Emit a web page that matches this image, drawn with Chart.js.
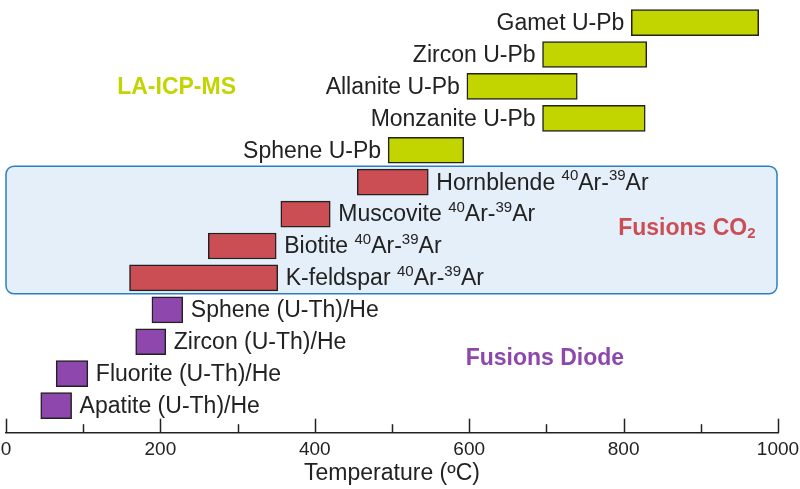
<!DOCTYPE html>
<html><head><meta charset="utf-8">
<script src="https://cdn.jsdelivr.net/npm/chart.js@4"></script>
<style>html,body{margin:0;padding:0;background:#fff}#wrap{width:800px;height:489px;position:relative}</style>
</head><body><div id="wrap"><canvas id="c"></canvas></div>
<script>
// ---- data ----
const categories = ['Gamet U-Pb','Zircon U-Pb','Allanite U-Pb','Monzanite U-Pb','Sphene U-Pb',
  'Hornblende ^40Ar-^39Ar','Muscovite ^40Ar-^39Ar','Biotite ^40Ar-^39Ar','K-feldspar ^40Ar-^39Ar',
  'Sphene (U-Th)/He','Zircon (U-Th)/He','Fluorite (U-Th)/He','Apatite (U-Th)/He'];
const tempMin = [810,695,597,695,495,455,356,262,160,189,168,65,45];
const tempMax = [975,830,740,828,593,547,420,350,352,229,207,106,85];
const methodOf = ['LA-ICP-MS','LA-ICP-MS','LA-ICP-MS','LA-ICP-MS','LA-ICP-MS',
  'Fusions CO2','Fusions CO2','Fusions CO2','Fusions CO2',
  'Fusions Diode','Fusions Diode','Fusions Diode','Fusions Diode'];
const methods = ['LA-ICP-MS','Fusions CO2','Fusions Diode'];
const methodLabels = ['LA-ICP-MS','Fusions CO_2','Fusions Diode'];
const methodLabelX = [221, 882, 698];      // temperature where the group name is centred
const methodLabelRow = [2.05, 6.45, 10.52]; // row where the group name is centred
const methodColors = ['#c2d500','#cc4e55','#8e47ad'];
const xTicks = [0,200,400,600,800,1000];
const axisTitle = 'Temperature (\u00baC)';

const datasets = methods.map((m, k) => ({
  label: m,
  data: categories.map((c, i) => methodOf[i] === m ? {x: [tempMin[i], tempMax[i]], y: i} : null).filter(d => d),
  backgroundColor: methodColors[k],
  borderColor: '#222',
  borderWidth: 1.5,
  borderSkipped: false,
  barThickness: 26,
  grouped: false
}));

const LABEL_FONT = '23px "Liberation Sans", Arial, sans-serif';
const SUP_FONT = '15px "Liberation Sans", Arial, sans-serif';

function parseRich(t) {
  const parts = [];
  const re = /([\^_])(\d+)/g;
  let last = 0, m;
  while ((m = re.exec(t))) {
    if (m.index > last) parts.push({t: t.slice(last, m.index), k: 'n'});
    parts.push({t: m[2], k: m[1] === '^' ? 'sup' : 'sub'});
    last = re.lastIndex;
  }
  if (last < t.length) parts.push({t: t.slice(last), k: 'n'});
  return parts;
}
function drawRich(ctx, text, x, y, align, font, smallFont, color) {
  const parts = parseRich(text);
  let w = 0;
  parts.forEach(p => { ctx.font = p.k === 'n' ? font : smallFont; p.w = ctx.measureText(p.t).width; w += p.w; });
  let cx = align === 'right' ? x - w : align === 'center' ? x - w / 2 : x;
  ctx.fillStyle = color;
  ctx.textBaseline = 'middle';
  ctx.textAlign = 'left';
  parts.forEach(p => {
    ctx.font = p.k === 'n' ? font : smallFont;
    const dy = p.k === 'sup' ? -7 : p.k === 'sub' ? 5 : 0;
    ctx.fillText(p.t, cx, y + dy);
    cx += p.w;
  });
}

const decor = {
  id: 'decor',
  beforeDatasetsDraw(chart) {
    const {ctx, scales: {x, y}} = chart;
    const rows = methodOf.map((m, i) => m === 'Fusions CO2' ? i : -1).filter(i => i >= 0);
    const top = y.getPixelForValue(Math.min(...rows) - 0.5);
    const bot = y.getPixelForValue(Math.max(...rows) + 0.5);
    const l = x.getPixelForValue(0), r = x.getPixelForValue(1000) - 1;
    ctx.save();
    ctx.beginPath();
    ctx.roundRect(l, top, r - l, bot - top, 8);
    ctx.fillStyle = '#e5eff9';
    ctx.fill();
    ctx.lineWidth = 1.5;
    ctx.strokeStyle = '#2a80c2';
    ctx.stroke();
    const ay = chart.chartArea.bottom;
    ctx.strokeStyle = '#222';
    ctx.lineWidth = 1.5;
    for (let v = 0; v <= 1000; v += 100) {
      const px = Math.round(x.getPixelForValue(v)) + 0.5;
      const len = xTicks.includes(v) ? 14 : 8.5;
      ctx.beginPath(); ctx.moveTo(px, ay); ctx.lineTo(px, ay - len); ctx.stroke();
    }
    ctx.restore();
  },
  afterDatasetsDraw(chart) {
    const {ctx, scales: {x, y}} = chart;
    ctx.save();
    categories.forEach((c, i) => {
      const py = y.getPixelForValue(i) + 1;
      if (methodOf[i] === 'LA-ICP-MS') {
        drawRich(ctx, c, x.getPixelForValue(tempMin[i]) - 7, py, 'right', LABEL_FONT, SUP_FONT, '#222');
      } else {
        drawRich(ctx, c, x.getPixelForValue(tempMax[i]) + 8, py, 'left', LABEL_FONT, SUP_FONT, '#222');
      }
    });
    methods.forEach((m, k) => {
      drawRich(ctx, methodLabels[k], x.getPixelForValue(methodLabelX[k]), y.getPixelForValue(methodLabelRow[k]),
        'center', 'bold 23px "Liberation Sans", Arial, sans-serif', 'bold 15px "Liberation Sans", Arial, sans-serif', methodColors[k]);
    });
    ctx.restore();
  }
};

new Chart(document.getElementById('c'), {
  type: 'bar',
  data: {datasets},
  options: {
    indexAxis: 'y',
    responsive: true,
    maintainAspectRatio: false,
    animation: false,
    layout: {padding: {left: 0, right: 0, top: 6, bottom: 10}},
    plugins: {legend: {display: false}, tooltip: {enabled: false}},
    scales: {
      y: {type: 'linear', reverse: true, min: -0.52, max: 12.85, display: false, offset: false},
      x: {
        type: 'linear', min: 0, max: 1000,
        afterBuildTicks: s => { s.ticks = xTicks.map(v => ({value: v})); },
        afterFit: s => { s.paddingLeft = 6; s.paddingRight = 22; },
        grid: {display: false, drawTicks: false},
        border: {display: true, color: '#222', width: 1.5},
        ticks: {padding: 6, color: '#222', font: {family: '"Liberation Sans", Arial, sans-serif', size: 19}, maxRotation: 0,
          callback: v => String(v)},
        title: {display: true, text: axisTitle, color: '#222', padding: {top: 0, bottom: 0},
          font: {family: '"Liberation Sans", Arial, sans-serif', size: 23, lineHeight: 0.5}}
      }
    }
  },
  plugins: [decor]
});
</script>
</body></html>
